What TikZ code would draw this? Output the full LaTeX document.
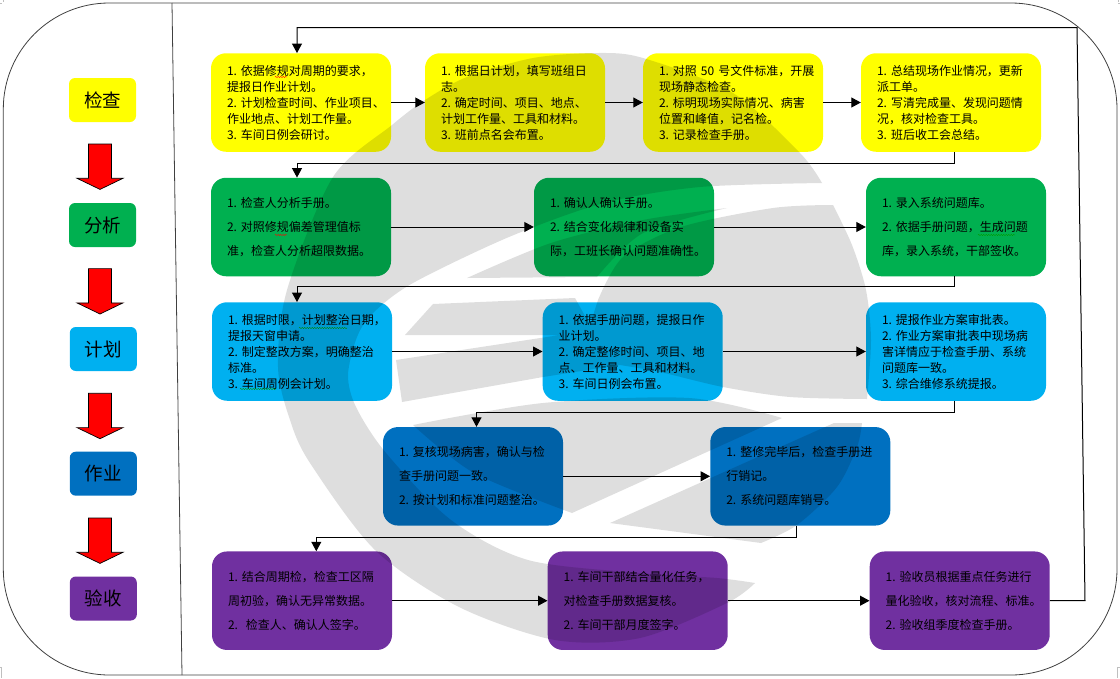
\documentclass[tikz,border=0pt]{standalone}
\usepackage{fontspec}
\setmainfont[WordSpace=.6]{Noto Sans CJK SC}
\usetikzlibrary{arrows.meta,decorations.pathmorphing}
\definecolor{cyellow}{HTML}{FFFF00}
\definecolor{cgreen}{HTML}{00B050}
\definecolor{cblue}{HTML}{00B0F0}
\definecolor{cdeep}{HTML}{0070C0}
\definecolor{cpurple}{HTML}{7030A0}
\tikzset{
  stepbox/.style={rounded corners=15pt,fill=#1,text=black,anchor=center,align=left,
    minimum width=180pt,minimum height=98.5pt,text width=148pt,inner xsep=16pt,inner ysep=0pt},
  tight/.style={font=\fontsize{12}{16}\selectfont},
  loose/.style={font=\fontsize{12}{24}\selectfont},
  tagbox/.style={rounded corners=6pt,fill=#1,text=black,minimum width=67pt,minimum height=44pt,
    inner sep=0pt,font=\fontsize{18.5}{20}\selectfont},
  flow/.style={line width=1pt,-{Triangle[length=9.5pt,width=10pt]}},
  redarrow/.style={draw=black,line width=.7pt,fill=red,line join=miter},
  frameline/.style={line width=.8pt,draw=black!75},
  wmark/.style={fill=black,opacity=.13},
  squig/.style={#1,line width=.4pt,decorate,decoration={snake,amplitude=.6pt,segment length=2.5pt}},
  cropmark/.style={line width=.5pt,draw=black!25}
}
\begin{document}
\begin{tikzpicture}[x=1pt,y=-1pt]
  \useasboundingbox (0,0) rectangle (1120,678);
  \draw[frameline,rounded corners=106pt] (3.3,3) rectangle (1117,675);
  \draw[frameline] (172,3) -- (182,675);
  \draw[cropmark] (0,3) -- (2,3) (3,0) -- (3,2) (1120,3) -- (1118,3) (1118,0) -- (1118,2);
  \draw[cropmark] (0,667) -- (1.7,667) -- (1.7,678) (1120,667) -- (1117.5,667) -- (1117.5,678);

  \node[tagbox=cyellow] (tjc) at (102.5,100) {检查};
  \node[tagbox=cgreen] (tfx) at (102.5,225) {分析};
  \node[tagbox=cblue] (tjh) at (103.3,349) {计划};
  \node[tagbox=cdeep] (tzy) at (103.3,473.7) {作业};
  \node[tagbox=cpurple] (tys) at (103.3,598.5) {验收};
  \foreach \y in {144,268.6,393.3,518}
    \draw[redarrow] (88.5,\y) -- (111.5,\y) -- (111.5,\y+34.3) -- (123,\y+34.3) -- (100,\y+45.4)
      -- (77,\y+34.3) -- (88.5,\y+34.3) -- cycle;

  \node[stepbox=cyellow,tight] (jc1) at (301,102.5) {1.~依据修规对周期的要求，\\提报日作业计划。\\2.~计划检查时间、作业项目、\\作业地点、计划工作量。\\3.~车间日例会研讨。};
  \node[stepbox=cyellow,tight] (jc2) at (515,102.5) {1.~根据日计划，填写班组日\\志。\\2.~确定时间、项目、地点、\\计划工作量、工具和材料。\\3.~班前点名会布置。};
  \node[stepbox=cyellow,tight] (jc3) at (733,102.5) {1.~对照~50~号文件标准，开展\\现场静态检查。\\2.~标明现场实际情况、病害\\位置和峰值，记名检。\\3.~记录检查手册。};
  \node[stepbox=cyellow,tight] (jc4) at (951,102.5) {1.~总结现场作业情况，更新\\派工单。\\2.~写清完成量、发现问题情\\况，核对检查工具。\\3.~班后收工会总结。};

  \node[stepbox=cgreen,loose] (fx1) at (301,227) {1.~检查人分析手册。\\2.~对照修规偏差管理值标\\准，检查人分析超限数据。};
  \node[stepbox=cgreen,loose] (fx2) at (624,227) {1.~确认人确认手册。\\2.~结合变化规律和设备实\\际，工班长确认问题准确性。};
  \node[stepbox=cgreen,loose] (fx3) at (956,227) {1.~录入系统问题库。\\2.~依据手册问题，生成问题\\库，录入系统，干部签收。};

  \node[stepbox=cblue,tight] (jh1) at (302,351.5) {1.~根据时限，计划整治日期，\\提报天窗申请。\\2.~制定整改方案，明确整治\\标准。\\3.~车间周例会计划。};
  \node[stepbox=cblue,tight] (jh2) at (632.7,351.5) {1.~依据手册问题，提报日作\\业计划。\\2.~确定整修时间、项目、地\\点、工作量、工具和材料。\\3.~车间日例会布置。};
  \node[stepbox=cblue,tight] (jh3) at (956,351.5) {1.~提报作业方案审批表。\\2.~作业方案审批表中现场病\\害详情应于检查手册、系统\\问题库一致。\\3.~综合维修系统提报。};

  \node[stepbox=cdeep,loose] (zy1) at (473,476.3) {1.~复核现场病害，确认与检\\查手册问题一致。\\2.~按计划和标准问题整治。};
  \node[stepbox=cdeep,loose] (zy2) at (800.3,476.3) {1.~整修完毕后，检查手册进\\行销记。\\2.~系统问题库销号。};

  \node[stepbox=cpurple,loose] (ys1) at (302,600.7) {1.~结合周期检，检查工区隔\\周初验，确认无异常数据。\\2.~~检查人、确认人签字。};
  \node[stepbox=cpurple,loose] (ys2) at (637.7,600.7) {1.~车间干部结合量化任务，\\对检查手册数据复核。\\2.~车间干部月度签字。};
  \node[stepbox=cpurple,loose] (ys3) at (959.7,600.7) {1.~验收员根据重点任务进行\\量化验收，核对流程、标准。\\2.~验收组季度检查手册。};

  \foreach \a/\b in {jc1/jc2,jc2/jc3,jc3/jc4,fx1/fx2,fx2/fx3,jh1/jh2,jh2/jh3,zy1/zy2,ys1/ys2,ys2/ys3}
    \draw[flow] (\a) -- (\b);

  \coordinate (ltop) at (1077,27.5);
  \coordinate (lbot) at (1085,600.7);
  \draw[flow] (ys3) -- (lbot) -- (ltop) -| ([xshift=-4pt]jc1.north);
  \draw[flow] ([xshift=3.3pt]jc4.south) -- ++(0,12) -| ([xshift=-4pt]fx1.north);
  \draw[flow] ([xshift=-1.7pt]fx3.south) -- ++(0,10) -| ([xshift=-5pt]jh1.north);
  \draw[flow] ([xshift=-1.7pt]jh3.south) -- ++(0,11.3) -| ([xshift=3.5pt]zy1.north);
  \draw[flow] ([xshift=-3.8pt]zy2.south) -- ++(0,11.7) -| ([xshift=14.3pt]ys1.north);

  \draw[squig=red] (275,77) -- (287,77);
  \draw[squig=red] (275,235) -- (287,235);
  \draw[squig=green!60!black] (978,235) -- (1015,235);
  \draw[squig=green!60!black] (299,328) -- (347,328);
  \draw[squig=green!60!black] (240,389) -- (276,389);

  \fill[wmark] plot[smooth] coordinates {(822,183) (800,153) (733,93) (643,58) (597,53) (533,58) (467,77) (425,100) (392,125) (333,177) (287,290) (278,367) (290,420) (310,463) (375,550) (459,607) (555,640) (640,638) (727,603) (755,583)}
    -- plot[smooth] coordinates {(755,583) (717,578) (640,573) (528,560) (451,520) (386,453) (356,407) (348,375) (357,337) (373,313) (413,283) (509,237) (604,203) (700,187) (822,183)} -- cycle;
  \fill[wmark] plot[smooth] coordinates {(467,278) (551,243) (643,220) (727,208)}
    -- plot[smooth] coordinates {(727,208) (643,233) (597,277)} -- cycle;
  \fill[wmark] (405,335) -- (433,304) -- (575,298) -- (590,325)
    -- plot[smooth] coordinates {(598,300) (623,257) (681,227) (773,208) (833,205)}
    -- plot[smooth] coordinates {(833,205) (852,245) (866,290) (871,340) (867,399)}
    -- plot[smooth] coordinates {(867,399) (790,397) (723,387) (660,372) (620,365)}
    -- (543,377) -- (402,402) -- (396,360) -- (560,335) -- cycle;
  \fill[wmark] plot[smooth] coordinates {(413,425) (543,403) (689,398) (782,418)}
    -- (572,513) -- plot[smooth] coordinates {(572,513) (474,473) (413,425)} -- cycle;
  \fill[wmark] (610,523) -- (834,423) -- (862,423)
    -- plot[smooth] coordinates {(862,423) (857,447) (837,487) (797,525) (761,543)} -- cycle;
\end{tikzpicture}
\end{document}
